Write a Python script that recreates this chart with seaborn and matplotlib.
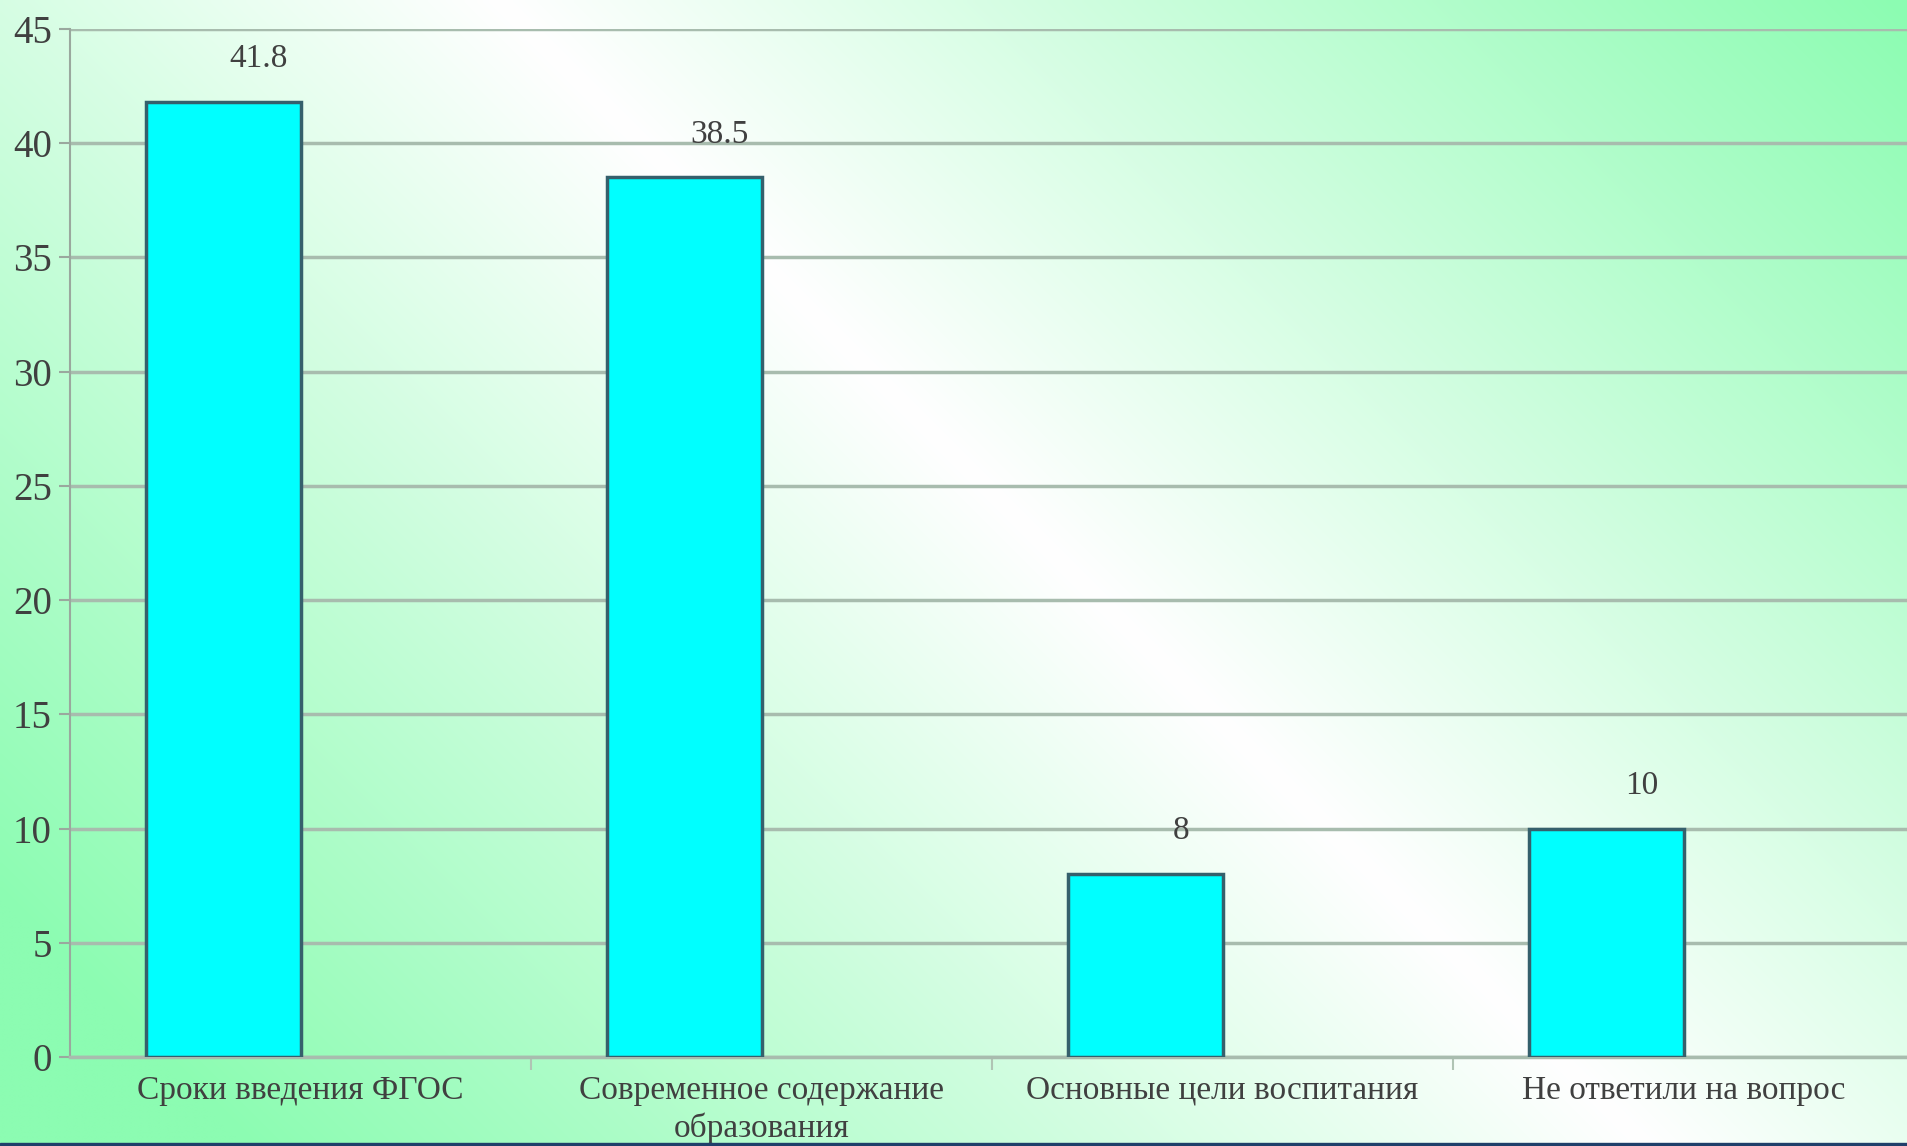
import numpy as np
import pandas as pd
import matplotlib.pyplot as plt
import seaborn as sns
from matplotlib.patches import Rectangle

# Данные
categories = ['Сроки введения ФГОС', 'Современное содержание\nобразования',
              'Основные цели воспитания', 'Не ответили на вопрос']
values = [41.8, 38.5, 8, 10]
value_labels = ['41.8', '38.5', '8', '10']

df = pd.DataFrame({'category': categories, 'value': values, 'series': 'Ряд 1'})

sns.set_style('white')
plt.rcParams['font.family'] = ['Liberation Serif', 'DejaVu Serif']

W, H = 1907, 1146
fig = plt.figure(figsize=(W / 100, H / 100), dpi=100)

# Фон: диагональный градиент зелёный - белый - зелёный
bg = fig.add_axes([0, 0, 1, 1], zorder=-10)
xx, yy = np.meshgrid(np.linspace(0, W, 480), np.linspace(0, H, 290))
s = np.clip(np.abs(xx - yy - 500) / 1400, 0, 1)[..., None]
white = np.array([1.0, 1.0, 1.0])
green = np.array([140, 252, 178]) / 255
img = white * (1 - s) + green * s
bg.imshow(img, aspect='auto', extent=[0, 1, 0, 1], interpolation='bilinear')
bg.set_axis_off()

ax = fig.add_axes([70 / W, 1 - 1057 / H, 1844 / W, (1057 - 29) / H])
ax.set_facecolor('none')

sns.barplot(data=df, x='category', y='value', hue='series',
            hue_order=['Ряд 1', 'Ряд 2'], order=categories,
            palette={'Ряд 1': '#00ffff', 'Ряд 2': '#00ffff'}, saturation=1,
            width=0.67, dodge=True, edgecolor='#35606c', linewidth=2.5,
            legend=False, ax=ax, zorder=3)

ax.set_ylim(0, 45)
ax.set_xlim(-0.5, 3.5)
ax.set_yticks(range(0, 46, 5))
ax.yaxis.grid(True, color='#a8bcae', linewidth=2.5, zorder=0)
ax.set_axisbelow(True)

# Подписи значений
for i, (v, lab) in enumerate(zip(values, value_labels)):
    ax.annotate(lab, xy=(i - 0.1675 + 0.077, v), xytext=(0, 31),
                textcoords='offset points', ha='center', va='center',
                fontsize=24, color='#404040')

ax.set_xlabel('')
ax.set_ylabel('')
ax.tick_params(axis='y', labelsize=28, labelcolor='#404040', length=8,
               color='#9aa89e', width=1.5, left=True, pad=5)
ax.set_xticks(range(len(categories)))
ax.set_xticklabels(categories, fontsize=24, color='#404040', linespacing=1.3)
ax.tick_params(axis='x', length=0, pad=13)
ax.set_xticks([0.5, 1.5, 2.5], minor=True)
ax.tick_params(axis='x', which='minor', length=9, color='#b0c4b4', width=1.5, bottom=True)

for side in ['top', 'right']:
    ax.spines[side].set_visible(False)
ax.spines['left'].set_color('#9aa89e')
ax.spines['left'].set_linewidth(1.5)
ax.spines['bottom'].set_color('#a8bcae')
ax.spines['bottom'].set_linewidth(2.5)

# Тёмная полоса снизу
fig.add_artist(Rectangle((0, 0), 1, 3 / H, transform=fig.transFigure,
                         color='#1f3f6a', zorder=20))

plt.savefig('out.png', dpi=100)
